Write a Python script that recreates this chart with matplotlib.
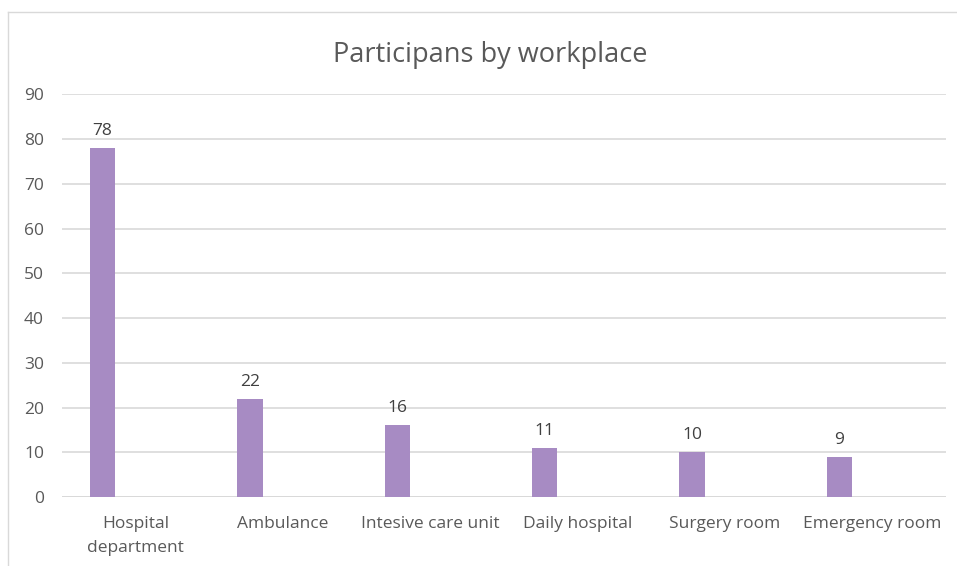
import matplotlib.pyplot as plt
from matplotlib.lines import Line2D

categories = ['Hospital\ndepartment', 'Ambulance', 'Intesive care unit',
              'Daily hospital', 'Surgery room', 'Emergency room']
participants = [78, 22, 16, 11, 10, 9]
y_ticks = [0, 10, 20, 30, 40, 50, 60, 70, 80, 90]

plt.rcParams['font.family'] = ['Open Sans', 'DejaVu Sans']

W, H = 957, 566
fig = plt.figure(figsize=(W / 100, H / 100), dpi=100)
ax = fig.add_axes([62 / W, 1 - 497 / H, (946 - 62) / W, (497 - 94.3) / H])

# bars sit left of the category centre, like an Excel clustered column
x = list(range(len(categories)))
bar_x = [i - 0.224 for i in x]
bars = ax.bar(bar_x, participants, width=0.173, color='#A78BC3', zorder=3)
for bx, v in zip(bar_x, participants):
    ax.text(bx, v + 2.0, str(v), ha='center', va='bottom',
            fontsize=12.5, color='#404040')

ax.set_xlim(-0.5, len(categories) - 0.5)
ax.set_ylim(0, 90)
ax.set_yticks(y_ticks)
ax.set_xticks(x)
ax.set_xticklabels(categories, fontsize=12.5, color='#595959', linespacing=1.65)
ax.tick_params(axis='y', labelsize=12.5, labelcolor='#595959', length=0, pad=13)
ax.tick_params(axis='x', length=0, pad=14)
ax.yaxis.grid(True, color='#D9D9D9', linewidth=1.2, zorder=0)
for s in ax.spines.values():
    s.set_visible(False)
ax.axhline(0, color='#D9D9D9', linewidth=1.3, zorder=2)

fig.text(490 / W, 1 - 55 / H, 'Participans by workplace', ha='center',
         va='center', fontsize=19.5, color='#595959')

# chart frame
fig.add_artist(Line2D([8 / W, 8 / W], [0, 1 - 12 / H], color='#D9D9D9', linewidth=1))
fig.add_artist(Line2D([8 / W, 1], [1 - 12 / H, 1 - 12 / H], color='#D9D9D9', linewidth=1))

fig.savefig('out.png', dpi=100)
